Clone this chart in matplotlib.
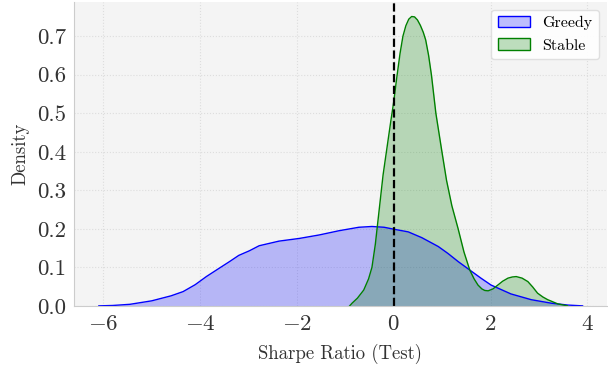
import numpy as np
import matplotlib
matplotlib.use("Agg")
import matplotlib.pyplot as plt
from matplotlib.patches import Patch

# density curves (KDE of test Sharpe ratios)
greedy_x = [-6.09, -5.8, -5.45, -5.0, -4.6, -4.35, -4.1, -3.87, -3.6, -3.39, -3.2,
            -2.98, -2.78, -2.37, -1.95, -1.54, -1.13, -0.72, -0.45, -0.2, 0.0, 0.3,
            0.58, 0.92, 1.12, 1.33, 1.57, 1.8, 2.01, 2.42, 2.84, 3.25, 3.6, 3.9]
greedy_y = [0.0, 0.001, 0.004, 0.013, 0.026, 0.037, 0.055, 0.076, 0.098, 0.115, 0.131,
            0.143, 0.156, 0.168, 0.175, 0.184, 0.195, 0.204, 0.206, 0.204, 0.199, 0.192,
            0.177, 0.154, 0.136, 0.115, 0.093, 0.072, 0.054, 0.031, 0.016, 0.007, 0.002, 0.0]

stable_x = [-0.91, -0.86, -0.75, -0.62, -0.52, -0.45, -0.38, -0.3, -0.22, -0.14, -0.06,
            0.0, 0.06, 0.13, 0.19, 0.25, 0.31, 0.37, 0.43, 0.49, 0.55, 0.61, 0.66, 0.72,
            0.78, 0.87, 0.99, 1.09, 1.2, 1.33, 1.45, 1.57, 1.66, 1.74, 1.82, 1.88, 1.95,
            2.05, 2.15, 2.25, 2.36, 2.45, 2.53, 2.65, 2.77, 2.87, 2.97, 3.08, 3.18, 3.39,
            3.59]
stable_y = [0.0, 0.007, 0.02, 0.041, 0.07, 0.10, 0.16, 0.25, 0.34, 0.41, 0.48,
            0.53, 0.59, 0.655, 0.70, 0.727, 0.744, 0.751, 0.75, 0.742, 0.728, 0.71, 0.69,
            0.65, 0.598, 0.50, 0.404, 0.326, 0.26, 0.20, 0.14, 0.093, 0.07, 0.054, 0.044,
            0.040, 0.039, 0.044, 0.054, 0.064, 0.072, 0.075, 0.076, 0.072, 0.063, 0.049,
            0.033, 0.023, 0.016, 0.005, 0.0]

plt.rcParams['font.family'] = 'serif'
plt.rcParams['font.serif'] = ['cmr10']
plt.rcParams['mathtext.fontset'] = 'cm'
plt.rcParams['axes.formatter.use_mathtext'] = True

fig = plt.figure(figsize=(6.08, 3.73), dpi=100)
ax = fig.add_axes([0.122, 0.18, 0.876, 0.815])
ax.set_facecolor('#f4f4f4')

ax.fill_between(greedy_x, greedy_y, color='blue', alpha=0.25, linewidth=0)
ax.plot(greedy_x, greedy_y, color='blue', linewidth=1)
ax.fill_between(stable_x, stable_y, color='green', alpha=0.25, linewidth=0)
ax.plot(stable_x, stable_y, color='green', linewidth=1)
ax.axvline(0, color='black', linestyle='--', linewidth=1.6)

ax.set_xlim(-6.6, 4.4)
ax.set_ylim(0, 0.789)
ax.set_xticks([-6, -4, -2, 0, 2, 4])
ax.set_yticks([0.0, 0.1, 0.2, 0.3, 0.4, 0.5, 0.6, 0.7])
ax.set_yticklabels(['0.0', '0.1', '0.2', '0.3', '0.4', '0.5', '0.6', '0.7'])
ax.tick_params(length=0, labelsize=16.5, colors='#333333', pad=6)
ax.grid(True, linestyle=':', color='#dddddd', linewidth=0.8)
ax.set_axisbelow(True)
for s in ['top', 'right']:
    ax.spines[s].set_visible(False)
for s in ['left', 'bottom']:
    ax.spines[s].set_color('#cccccc')

ax.set_xlabel('Sharpe Ratio (Test)', fontsize=13.5, color='#333333', labelpad=7)
ax.set_ylabel('Density', fontsize=13.5, color='#333333', labelpad=5)

handles = [Patch(facecolor=(0, 0, 1, 0.25), edgecolor='blue', label='Greedy'),
           Patch(facecolor=(0, 0.5, 0, 0.25), edgecolor='green', label='Stable')]
ax.legend(handles=handles, loc='upper right', fontsize=11.5, frameon=True,
          facecolor='white', edgecolor='#dddddd', framealpha=0.9)

fig.savefig('out.png', dpi=100)
